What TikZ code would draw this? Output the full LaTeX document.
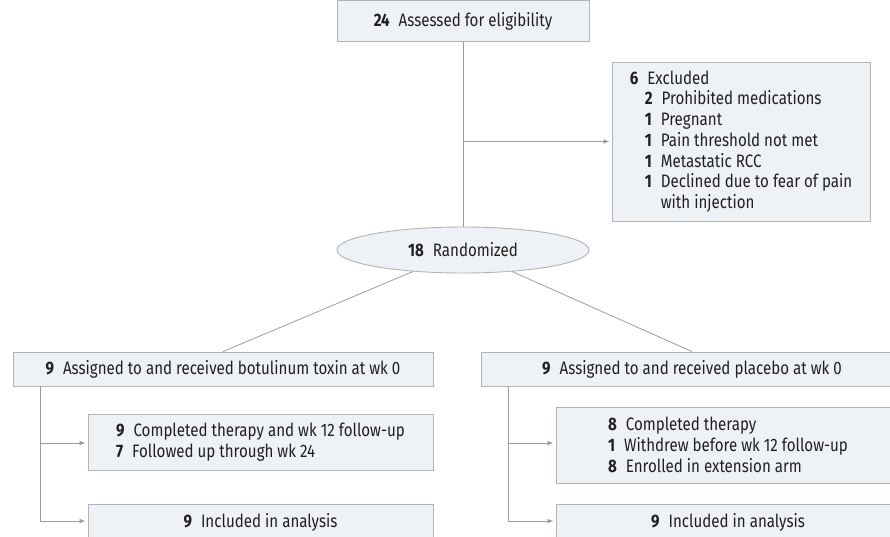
\documentclass[tikz,border=0pt]{standalone}
\usepackage{fontspec}
\setmainfont[FakeStretch=0.84]{Fira Sans}
\usetikzlibrary{arrows.meta,shapes.geometric}
\definecolor{boxfill}{HTML}{EEF1F6}
\definecolor{boxline}{HTML}{B4B4B4}
\definecolor{conn}{HTML}{9C9C9C}
\definecolor{txt}{HTML}{231F20}
\tikzset{
  every node/.style={font=\fontsize{18}{20.7}\selectfont, text=txt},
  box/.style={draw=boxline, fill=boxfill, line width=0.9pt, inner sep=0pt, align=left},
  oval/.style={ellipse, draw=boxline, fill=boxfill, line width=0.9pt, inner sep=0pt},
  conline/.style={draw=conn, line width=0.8pt},
  arr/.style={conline, -{Latex[length=6pt,width=4.5pt]}, shorten >=2pt}
}
\begin{document}
\begin{tikzpicture}[x=1pt,y=-1pt]
\useasboundingbox (0,0) rectangle (890,537);
\clip (0,0) rectangle (890,537);
% nodes
\node[box, minimum width=252pt, minimum height=41pt] (top) at (463,21) {\textbf{24}\enspace Assessed for eligibility};
\node[box, minimum width=258pt, minimum height=159pt] (excl) at (741,141.5) {\textbf{6}\enspace Excluded\\
\hspace*{15pt}\textbf{2}\enspace Prohibited medications\\
\hspace*{15pt}\textbf{1}\enspace Pregnant\\
\hspace*{15pt}\textbf{1}\enspace Pain threshold not met\\
\hspace*{15pt}\textbf{1}\enspace Metastatic RCC\\
\hspace*{15pt}\textbf{1}\enspace Declined due to fear of pain\\
\hspace*{15pt}\phantom{\textbf{1}\enspace}with injection};
\node[oval, minimum width=252pt, minimum height=46pt] (rand) at (463,250) {\textbf{18}\enspace Randomized};
\node[box, minimum width=420pt, minimum height=34pt] (lassign) at (223,369) {\textbf{9}\enspace Assigned to and received botulinum toxin at wk 0};
\node[box, minimum width=422pt, minimum height=34pt] (rassign) at (692,369) {\textbf{9}\enspace Assigned to and received placebo at wk 0};
\node[box, minimum width=345pt, minimum height=56pt] (lmid) at (260.5,442) {\textbf{9}\enspace Completed therapy and wk 12 follow-up\\
\textbf{7}\enspace Followed up through wk 24};
\node[box, minimum width=344pt, minimum height=76pt] (rmid) at (728,445) {\textbf{8}\enspace Completed therapy\\
\textbf{1}\enspace Withdrew before wk 12 follow-up\\
\textbf{8}\enspace Enrolled in extension arm};
\node[box, minimum width=345pt, minimum height=36pt] (lbot) at (260.5,522) {\textbf{9}\enspace Included in analysis};
\node[box, minimum width=344pt, minimum height=36pt] (rbot) at (728,522) {\textbf{9}\enspace Included in analysis};
% coordinates
\coordinate (rl) at (413,271.5);
\coordinate (rr) at (512,271.5);
\coordinate (lt1) at (40,443);
\coordinate (lt2) at (40,521);
\coordinate (rt1) at (508,443);
\coordinate (rt2) at (508,521);
% connectors
\draw[conline] (top.south) -- (rand.north);
\draw[arr] (excl.west -| top.south) -- (excl.west);
\draw[conline] (rl) -- (lassign.north);
\draw[conline] (rr) -- (rassign.north);
\draw[conline] (lassign.south -| lt2) -- (lt2);
\draw[arr] (lt1) -- (lt1 -| lmid.west);
\draw[arr] (lt2) -- (lt2 -| lbot.west);
\draw[conline] (rassign.south -| rt2) -- (rt2);
\draw[arr] (rt1) -- (rt1 -| rmid.west);
\draw[arr] (rt2) -- (rt2 -| rbot.west);
\end{tikzpicture}
\end{document}
